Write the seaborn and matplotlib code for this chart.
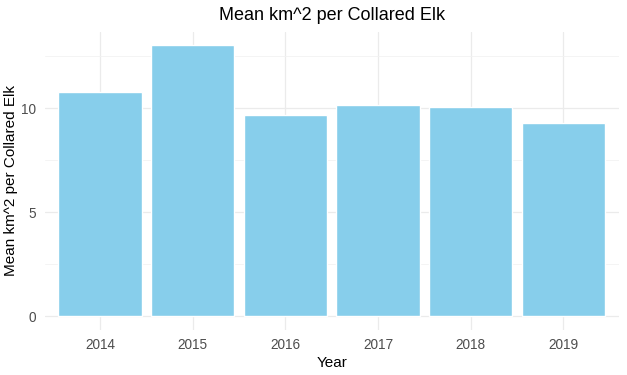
import numpy as np
import pandas as pd
import matplotlib
matplotlib.use('Agg')
import matplotlib.pyplot as plt
import seaborn as sns

# values
years = ['2014', '2015', '2016', '2017', '2018', '2019']
mean_km2 = [10.78, 13.05, 9.68, 10.14, 10.06, 9.29]

df = pd.DataFrame({'Year': years, 'km2': mean_km2})

sns.set_style('white')
plt.rcParams['font.family'] = ['Liberation Sans', 'DejaVu Sans']

fig = plt.figure(figsize=(6.27, 3.75), dpi=100)
ax = fig.add_axes([0.071, 0.121, 0.916, 0.795])

_ = sns.barplot(data=df, x='Year', y='km2', color='#87CEEB', width=0.9,
                saturation=1, ax=ax, zorder=3)

ymax = max(mean_km2)
ax.set_ylim(-0.05 * ymax, ymax * 1.05)
ax.set_xlim(-0.6, len(years) - 0.4)

# theme_minimal-like grid
ax.set_yticks([0, 5, 10])
ax.set_yticks([2.5, 7.5, 12.5], minor=True)
ax.grid(True, which='major', color='#EBEBEB', linewidth=0.9, zorder=0)
ax.grid(True, which='minor', axis='y', color='#F2F2F2', linewidth=0.6, zorder=0)
for s in ax.spines.values():
    s.set_visible(False)
ax.tick_params(axis='both', which='both', length=0, labelsize=9.8, colors='#4D4D4D', pad=6)

ax.set_xlabel('Year', fontsize=11, color='black', labelpad=3)
ax.set_ylabel('Mean km^2 per Collared Elk', fontsize=11, color='black', labelpad=2)
ax.set_title('Mean km^2 per Collared Elk', fontsize=13, color='black', pad=8)

fig.savefig('out.png', dpi=100)
